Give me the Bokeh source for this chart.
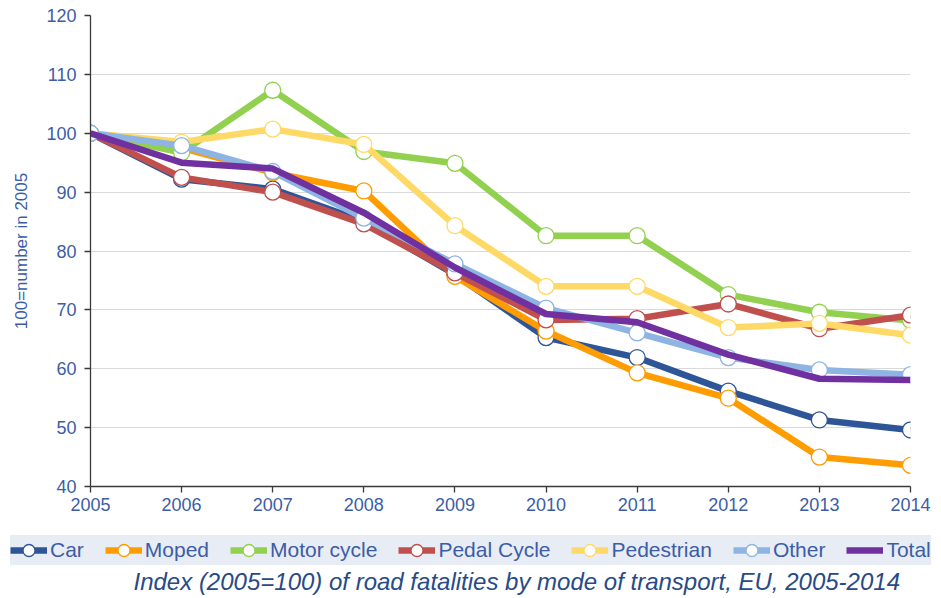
from bokeh.plotting import figure
from bokeh.layouts import column
from bokeh.models import Legend, LegendItem, Label, Range1d, FixedTicker
from bokeh.embed import file_html
from bokeh.resources import INLINE

years = [2005, 2006, 2007, 2008, 2009, 2010, 2011, 2012, 2013, 2014]
y_ticks = [40, 50, 60, 70, 80, 90, 100, 110, 120]

car = [100, 92.2, 90.5, 85.0, 76.0, 65.3, 61.9, 56.2, 51.3, 49.6]
moped = [100, 97.5, 93.3, 90.2, 75.7, 66.4, 59.3, 55.0, 45.0, 43.6]
motor_cycle = [100, 96.7, 107.3, 96.9, 94.9, 82.6, 82.6, 72.6, 69.6, 68.2]
pedal_cycle = [100, 92.5, 90.0, 84.6, 76.3, 68.3, 68.5, 71.0, 66.8, 69.1]
pedestrian = [100, 98.5, 100.7, 98.1, 84.3, 74.0, 74.0, 67.0, 67.7, 65.7]
other = [100, 97.9, 93.5, 85.6, 77.8, 70.3, 66.1, 61.9, 59.8, 59.0]
total = [100, 95.0, 94.0, 86.5, 77.2, 69.3, 67.9, 62.4, 58.3, 58.1]

series = [
    ("Car", car, "#2E5597", True),
    ("Moped", moped, "#FF9C00", True),
    ("Motor cycle", motor_cycle, "#92D050", True),
    ("Pedal Cycle", pedal_cycle, "#C0504D", True),
    ("Pedestrian", pedestrian, "#FFD966", True),
    ("Other", other, "#8DB4E2", True),
    ("Total", total, "#7030A0", False),
]
caption_text = "Index (2005=100) of road fatalities by mode of transport, EU, 2005-2014"

FONT = "Liberation Sans"
BLUE = "#3C5DA6"

# ---- main chart ----
p = figure(width=933, height=517,
           x_range=Range1d(2005, 2014), y_range=Range1d(40, 120),
           output_backend="svg", toolbar_location=None,
           min_border_left=90, min_border_right=23,
           min_border_top=15, min_border_bottom=31)
p.frame_align = False
p.outline_line_color = None
p.xgrid.grid_line_color = None
p.ygrid.grid_line_color = "#D9D9D9"
p.ygrid.grid_line_width = 1

p.xaxis.ticker = FixedTicker(ticks=years)
p.yaxis.ticker = FixedTicker(ticks=y_ticks)
for ax in (p.xaxis, p.yaxis):
    ax.axis_line_color = "#3A3A3A"
    ax.axis_line_width = 1.3
    ax.major_tick_line_color = "#3A3A3A"
    ax.major_tick_line_width = 1.3
    ax.major_tick_in = 0
    ax.major_tick_out = 6
    ax.minor_tick_line_color = None
    ax.major_label_text_font = FONT
    ax.major_label_text_font_size = "18px"
    ax.major_label_text_color = BLUE
p.xaxis.major_label_standoff = 5
p.yaxis.major_label_standoff = 8
p.yaxis.axis_label = "100=number in 2005"
p.yaxis.axis_label_text_font = FONT
p.yaxis.axis_label_text_font_size = "17px"
p.yaxis.axis_label_text_font_style = "normal"
p.yaxis.axis_label_text_color = BLUE
p.yaxis.axis_label_standoff = 12

# ---- legend / caption strip ----
q = figure(width=933, height=80, x_range=Range1d(0, 1), y_range=Range1d(0, 1),
           output_backend="svg", toolbar_location=None,
           x_axis_location=None, y_axis_location=None,
           min_border=0, min_border_left=0, min_border_right=0,
           min_border_top=0, min_border_bottom=0)
q.frame_align = False
q.outline_line_color = None
q.grid.visible = False

items = []
for name, vals, color, markers in series:
    p.line(years, vals, line_color=color, line_width=6.5, line_join="round")
    lr = q.line(years, vals, line_color=color, line_width=6.5, visible=False)
    rends = [lr]
    if markers:
        p.scatter(years, vals, marker="circle", size=16,
                  fill_color="white", line_color=color, line_width=1.3)
        sr = q.scatter(years, vals, marker="circle", size=16, fill_color="white",
                       line_color=color, line_width=1.3, visible=False)
        rends.append(sr)
    items.append(LegendItem(label=name, renderers=rends))

legend = Legend(items=items, orientation="horizontal", location=(10, 32),
                glyph_width=37, glyph_height=30, label_standoff=3, spacing=21,
                padding=1, margin=0,
                label_text_font=FONT, label_text_font_size="21px",
                label_text_color=BLUE,
                inactive_fill_alpha=0,
                background_fill_color="#E8ECF4", background_fill_alpha=1,
                border_line_color=None)
q.add_layout(legend, "center")

caption = Label(x=133, y=16, x_units="screen", y_units="screen",
                text=caption_text, text_align="left", text_baseline="alphabetic",
                text_font=FONT, text_font_size="24px", text_font_style="italic",
                text_color="#284A87")
q.add_layout(caption)

layout = column(p, q, spacing=0)
open("out.html", "w").write(file_html(layout, INLINE))
